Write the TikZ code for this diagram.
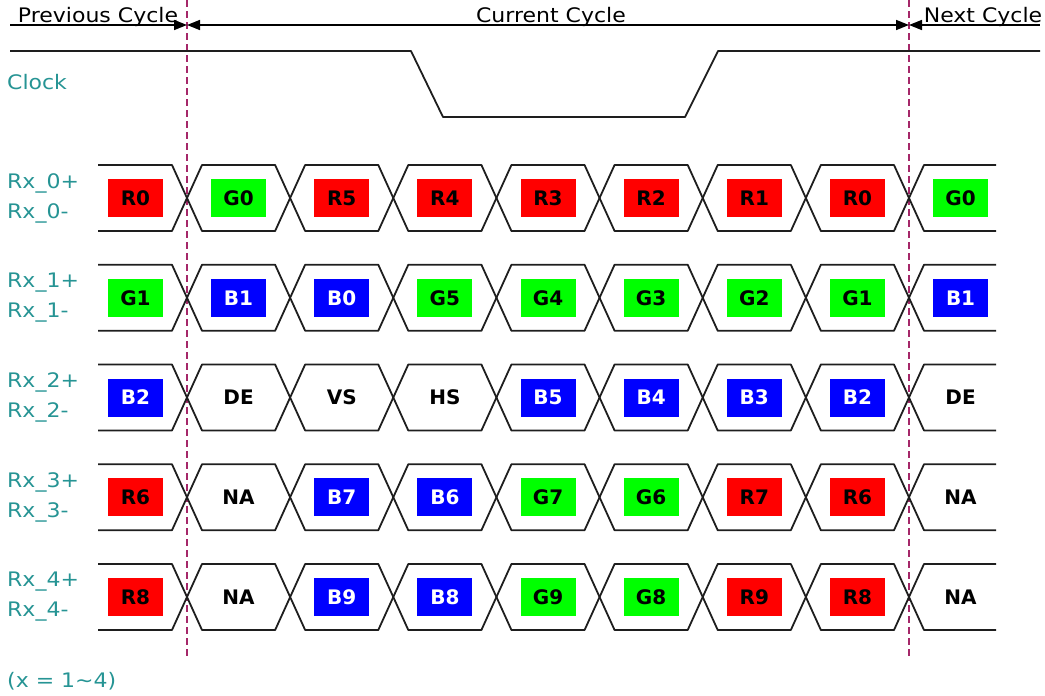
\documentclass[tikz,border=0pt]{standalone}
\usepackage{fontspec}
\setmainfont{DejaVu Sans}
\newfontfamily\widefont[FakeStretch=1.1]{DejaVu Sans}
\usetikzlibrary{arrows.meta}
\definecolor{lblc}{RGB}{38,148,148}
\definecolor{cutc}{RGB}{165,40,105}
\definecolor{sigc}{RGB}{30,30,30}
\begin{document}
\begin{tikzpicture}[x=1pt,y=-1pt,
  sig/.style={draw=sigc, line width=1.8pt, line join=round},
  lbl/.style={text=lblc, font=\widefont\fontsize{20}{20}\selectfont, anchor=west, inner sep=0pt},
  ttl/.style={font=\widefont\fontsize{20}{20}\selectfont, inner sep=0pt, anchor=base},
  cell/.style={minimum width=55pt, minimum height=38pt, inner sep=0pt, text height=14.5pt, text depth=0pt, font=\bfseries\fontsize{20}{20}\selectfont},
  R/.style={cell, fill=red, text=black},
  G/.style={cell, fill=green, text=black},
  B/.style={cell, fill=blue, text=white},
  N/.style={cell, text=black},
  cut/.style={draw=cutc, line width=1.6pt, dash pattern=on 7pt off 4pt},
]
\useasboundingbox (0,0) rectangle (1045,696);

% cycle boundaries
\coordinate (pl) at (187,0);
\coordinate (pr) at (909,0);
\coordinate (plb) at (187,658);
\coordinate (prb) at (909,658);
\draw[cut] (pl) -- (plb);
\draw[cut] (pr) -- (prb);

% cycle dimension line
\coordinate (d0) at (10,25);
\coordinate (d1) at (187,25);
\coordinate (d2) at (909,25);
\coordinate (d3) at (1040,25);
\draw[line width=1.6pt, -{Triangle[length=13pt,width=10pt]}] (d0) -- (d1);
\draw[line width=1.6pt, {Triangle[length=13pt,width=10pt]}-{Triangle[length=13pt,width=10pt]}] (d1) -- (d2);
\draw[line width=1.6pt, {Triangle[length=13pt,width=10pt]}-] (d2) -- (d3);
\node[ttl] (tprev) at (98,22) {Previous Cycle};
\node[ttl] (tcur) at (551,22) {Current Cycle};
\node[ttl] (tnext) at (983,22) {Next Cycle};

% clock
\node[lbl] (clk) at (7,82) {Clock};
\coordinate (k0) at (10,51);
\coordinate (k1) at (411,51);
\coordinate (k2) at (443,117);
\coordinate (k3) at (685,117);
\coordinate (k4) at (718,51);
\coordinate (k5) at (1040,51);
\draw[sig] (k0) -- (k1) -- (k2) -- (k3) -- (k4) -- (k5);

% data lanes
\foreach \r/\cells in {
  0/{R0/R,G0/G,R5/R,R4/R,R3/R,R2/R,R1/R,R0/R,G0/G},
  1/{G1/G,B1/B,B0/B,G5/G,G4/G,G3/G,G2/G,G1/G,B1/B},
  2/{B2/B,DE/N,VS/N,HS/N,B5/B,B4/B,B3/B,B2/B,DE/N},
  3/{R6/R,NA/N,B7/B,B6/B,G7/G,G6/G,R7/R,R6/R,NA/N},
  4/{R8/R,NA/N,B9/B,B8/B,G9/G,G8/G,R9/R,R8/R,NA/N}}{
  \pgfmathsetmacro\yc{198+99.75*\r}
  \pgfmathsetmacro\yt{\yc-33}
  \pgfmathsetmacro\yb{\yc+33}
  \node[lbl] (lp\r) at (7,\yc-15) {Rx\_\r+};
  \node[lbl] (lm\r) at (7,\yc+15) {Rx\_\r-};
  % first (partial) cell
  \draw[sig] (98,\yt) -- (172,\yt) -- (187,\yc) -- (172,\yb) -- (98,\yb);
  % inner cells
  \foreach \k in {1,...,7}{
    \pgfmathsetmacro\xa{187+103.143*(\k-1)}
    \pgfmathsetmacro\xb{187+103.143*\k}
    \draw[sig] (\xa,\yc) -- (\xa+15,\yt) -- (\xb-15,\yt) -- (\xb,\yc) -- (\xb-15,\yb) -- (\xa+15,\yb) -- cycle;
  }
  % last (partial) cell
  \draw[sig] (996,\yt) -- (924,\yt) -- (909,\yc) -- (924,\yb) -- (996,\yb);
  % cell contents
  \foreach \t/\s [count=\k from 0] in \cells{
    \pgfmathsetmacro\xc{187+103.143*(\k-0.5)}
    \node[\s] (c-\r-\k) at (\xc,\yc) {\t};
  }
}

\node[lbl] (note) at (7,681) {(x = 1\textasciitilde 4)};
\end{tikzpicture}
\end{document}
